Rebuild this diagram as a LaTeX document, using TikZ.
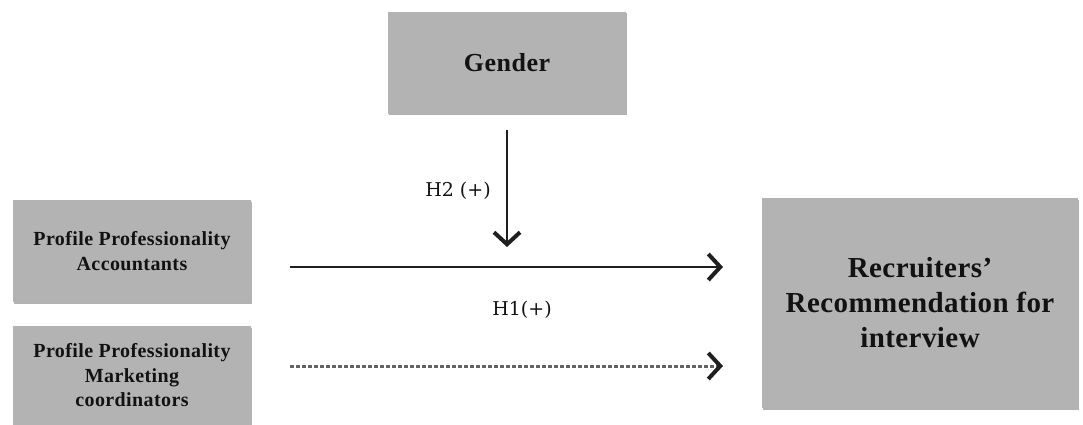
\documentclass[tikz,border=0pt]{standalone}
\usepackage{fontspec}
\setmainfont{Liberation Serif}
\newfontfamily\boxfont[LetterSpace=2]{Liberation Serif}
\newfontfamily\recfont[LetterSpace=1.5]{Liberation Serif}
\newfontfamily\genderfont[LetterSpace=2]{Liberation Serif}
\newfontfamily\labelfont{DejaVu Serif}
\usetikzlibrary{arrows.meta,shadows}
\definecolor{boxgray}{RGB}{179,179,179}
\definecolor{textdark}{RGB}{18,18,18}
\definecolor{dashgray}{RGB}{100,100,100}
\begin{document}
\begin{tikzpicture}[x=1pt,y=-1pt,
  box/.style={fill=boxgray, draw=none, inner sep=0pt, align=center, text=textdark,
    drop shadow={shadow xshift=1pt, shadow yshift=-1.5pt, opacity=0.3, fill=black}},
  conn/.style={line width=2.4pt, color=black!88,
    -{Straight Barb[length=12pt,width=26pt,line width=4pt]}},
  dashconn/.style={line width=3pt, color=dashgray, dash pattern=on 4pt off 2pt,
    -{Straight Barb[length=12pt,width=26pt,line width=4pt,color=black!88]}},
  lbl/.style={font=\labelfont\fontsize{19}{22}\selectfont, text=textdark, inner sep=0pt}
]
\useasboundingbox (0,0) rectangle (1083,425);

\node[box, minimum width=238pt, minimum height=102pt,
  font=\genderfont\bfseries\fontsize{26}{30}\selectfont] (gender) at (507,63) {Gender};

\node[box, minimum width=238pt, minimum height=102pt,
  font=\boxfont\bfseries\fontsize{20}{25}\selectfont] (acc) at (132,251)
  {Profile Professionality\\Accountants};

\node[box, minimum width=238pt, minimum height=99pt,
  font=\boxfont\bfseries\fontsize{20}{24.5}\selectfont] (mkt) at (132,375.5)
  {Profile Professionality\\Marketing\\coordinators};

\node[box, minimum width=316pt, minimum height=210pt,
  font=\recfont\bfseries\fontsize{29}{35}\selectfont] (rec) at (920,303)
  {Recruiters’\\Recommendation for\\interview};

\coordinate (vs) at (507,130);
\coordinate (ve) at (507,247);
\coordinate (hs) at (290,267);
\coordinate (he) at (723,267);
\coordinate (ds) at (290,366);
\coordinate (de) at (723,366);

\draw[conn] (vs) -- (ve);
\draw[conn] (hs) -- (he);
\draw[dashconn] (ds) -- (de);

\node[lbl] (h2) at (458,191) {H2 (+)};
\node[lbl] (h1) at (522,310) {H1(+)};
\end{tikzpicture}
\end{document}
